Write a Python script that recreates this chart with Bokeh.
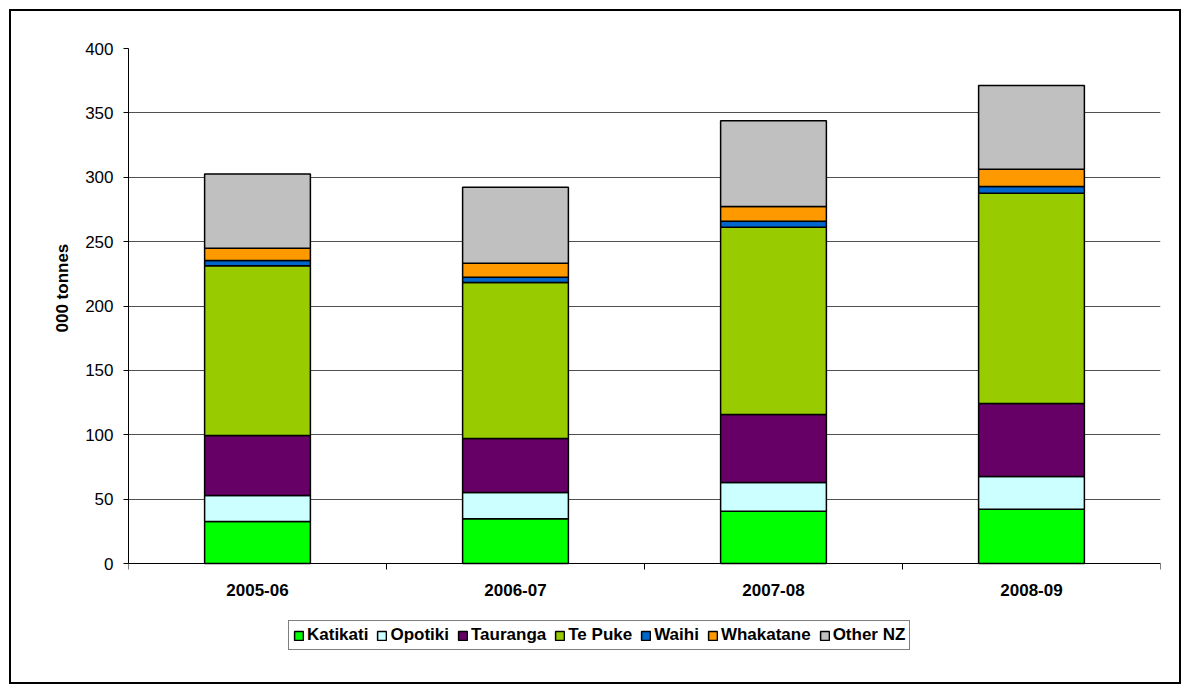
from bokeh.plotting import figure
from bokeh.models import (ColumnDataSource, Range1d, FixedTicker, Legend, LegendItem, Title,
                          InlineStyleSheet)
from bokeh.embed import file_html
from bokeh.resources import INLINE

# ---- data (000 tonnes) ----
seasons = ["2005-06", "2006-07", "2007-08", "2008-09"]
regions = ["Katikati", "Opotiki", "Tauranga", "Te Puke", "Waihi", "Whakatane", "Other NZ"]
katikati = [32.6, 34.7, 40.6, 42.2]
opotiki = [20.2, 20.4, 22.3, 25.4]
tauranga = [46.7, 42.0, 52.8, 56.7]
te_puke = [131.7, 121.2, 145.5, 163.3]
waihi = [4.1, 4.0, 4.7, 5.2]
whakatane = [9.6, 11.0, 11.4, 13.5]
other_nz = [57.6, 59.0, 66.5, 65.0]
y_ticks = [0, 50, 100, 150, 200, 250, 300, 350, 400]

colors = ["#00FF00", "#CCFFFF", "#660066", "#99CC00", "#0066CC", "#FF9900", "#C0C0C0"]
FONT = "Liberation Sans"
FS = "17px"

xpos = [i + 0.5 for i in range(len(seasons))]
source = ColumnDataSource(dict(
    x=xpos, Katikati=katikati, Opotiki=opotiki, Tauranga=tauranga,
    **{"Te Puke": te_puke}, Waihi=waihi, Whakatane=whakatane, **{"Other NZ": other_nz}))

# frame spans 48..671 px; value 0 sits at 563 px, 400 at 48 px
Y_MAX = 400
px_per_unit = (563 - 48) / Y_MAX
y_min = -(671 - 563) / px_per_unit

p = figure(width=1189, height=691, output_backend="svg", toolbar_location=None,
           x_range=Range1d(0, len(seasons)), y_range=Range1d(y_min, Y_MAX),
           min_border_left=128, min_border_right=29, min_border_top=48, min_border_bottom=20)
p.stylesheets = [InlineStyleSheet(css="""
:host { position: relative; }
:host::after {
  content: ""; position: absolute; left: 9px; top: 9px; right: 8px; bottom: 7px;
  border: 2px solid black; pointer-events: none; z-index: 100;
}
""")]
p.outline_line_color = None
p.background_fill_color = "white"
p.border_fill_color = "white"

renderers = p.vbar_stack(regions, x="x", width=0.41, source=source, color=colors,
                         line_color="black", line_width=1.5)

# y axis
p.yaxis.ticker = FixedTicker(ticks=y_ticks)
p.yaxis.bounds = (0, Y_MAX)
p.yaxis.major_label_text_font = FONT
p.yaxis.major_label_text_font_size = FS
p.yaxis.major_label_text_color = "black"
p.yaxis.major_label_standoff = 10
p.yaxis.major_tick_in = 0
p.yaxis.major_tick_out = 5
p.yaxis.minor_tick_line_color = None
p.yaxis.axis_line_color = "black"
p.yaxis.major_tick_line_color = "black"

ylab = Title(text="000 tonnes", align="left", offset=339, standoff=22,
             text_font=FONT, text_font_style="bold", text_font_size=FS, text_color="black")
p.add_layout(ylab, "left")

# x axis at value 0: labels at centres, ticks at category boundaries
p.xaxis.fixed_location = 0
p.xaxis.ticker = FixedTicker(ticks=xpos, minor_ticks=list(range(len(seasons) + 1)))
p.xaxis.major_label_overrides = {x: s for x, s in zip(xpos, seasons)}
p.xaxis.major_label_text_font = FONT
p.xaxis.major_label_text_font_style = "bold"
p.xaxis.major_label_text_font_size = FS
p.xaxis.major_label_text_color = "black"
p.xaxis.major_label_standoff = 14
p.xaxis.major_tick_in = 0
p.xaxis.major_tick_out = 0
p.xaxis.minor_tick_in = 0
p.xaxis.minor_tick_out = 6
p.xaxis.minor_tick_line_color = "black"
p.xaxis.axis_line_color = "black"

p.xgrid.grid_line_color = None
p.ygrid.grid_line_color = "#505050"
p.ygrid.grid_line_width = 1

legend = Legend(items=[LegendItem(label=r, renderers=[rr]) for r, rr in zip(regions, renderers)],
                orientation="horizontal", location=(160, 21))
legend.label_text_font = FONT
legend.label_text_font_style = "bold"
legend.label_text_font_size = FS
legend.label_text_color = "black"
legend.label_standoff = 3
legend.glyph_width = 11
legend.glyph_height = 11
legend.spacing = 8
legend.padding = 4
legend.margin = 0
legend.label_height = 15
legend.border_line_color = "black"
legend.border_line_width = 1
legend.background_fill_alpha = 1
p.add_layout(legend, "center")

open("out.html", "w").write(file_html(p, INLINE))
